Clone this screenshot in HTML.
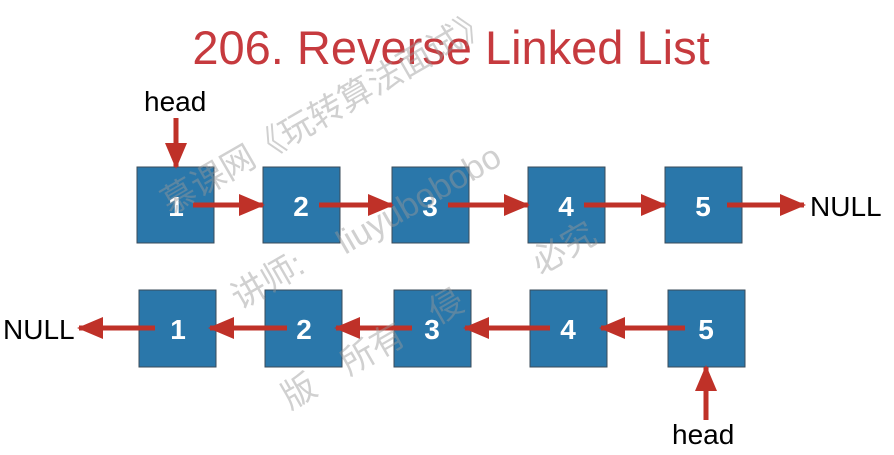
<!DOCTYPE html>
<html><head><meta charset="utf-8"><style>
html,body{margin:0;padding:0;background:#fff;width:894px;height:455px;overflow:hidden}
</style></head><body>
<svg width="894" height="455" viewBox="0 0 894 455" xmlns="http://www.w3.org/2000/svg" font-family="Liberation Sans, sans-serif">
<defs>
<marker id="a" markerWidth="26" markerHeight="22" refX="24" refY="11" orient="auto" markerUnits="userSpaceOnUse">
<path d="M0,0 L26,11 L0,22 Z" fill="#bf3128"/></marker>
</defs>
<text x="451" y="64" text-anchor="middle" font-size="47" fill="#c63a3e">206. Reverse Linked List</text>
<g fill="#2a77aa" stroke="#3a4b5a" stroke-width="1">
<rect x="137" y="167" width="77" height="76"/>
<rect x="263" y="167" width="77" height="76"/>
<rect x="392" y="167" width="77" height="76"/>
<rect x="528" y="167" width="77" height="76"/>
<rect x="665" y="167" width="77" height="76"/>
<rect x="139" y="290" width="77" height="77"/>
<rect x="265" y="290" width="77" height="77"/>
<rect x="394" y="290" width="77" height="77"/>
<rect x="530" y="290" width="77" height="77"/>
<rect x="668" y="290" width="77" height="77"/>
</g>
<g fill="#fff" font-size="28" font-weight="bold" text-anchor="middle">
<text x="176" y="216">1</text><text x="301" y="216">2</text><text x="430" y="216">3</text><text x="566" y="216">4</text><text x="703" y="216">5</text>
<text x="178" y="339">1</text><text x="304" y="339">2</text><text x="432" y="339">3</text><text x="568" y="339">4</text><text x="706" y="339">5</text>
</g>
<g stroke="#bf3128" stroke-width="5" fill="none" marker-end="url(#a)">
<line x1="176" y1="118" x2="176" y2="167"/>
<line x1="193" y1="205" x2="263" y2="205"/>
<line x1="319" y1="205" x2="392" y2="205"/>
<line x1="448" y1="205" x2="528" y2="205"/>
<line x1="584" y1="205" x2="665" y2="205"/>
<line x1="727" y1="205" x2="804" y2="205"/>
<line x1="155" y1="328" x2="79" y2="328"/>
<line x1="287" y1="328" x2="210" y2="328"/>
<line x1="412" y1="328" x2="336" y2="328"/>
<line x1="550" y1="328" x2="465" y2="328"/>
<line x1="685" y1="328" x2="601" y2="328"/>
<line x1="706" y1="420" x2="706" y2="367"/>
</g>
<g fill="#000" font-size="28">
<text x="144" y="111">head</text>
<text x="810" y="216">NULL</text>
<text x="3" y="339">NULL</text>
<text x="672" y="444">head</text>
</g>
<g fill="#999" opacity="0.45" font-size="34" font-family="Liberation Sans, Noto Sans CJK SC, sans-serif">
<text transform="translate(170,215) rotate(-30)">慕课网《玩转算法面试》</text>
<text transform="translate(345,255) rotate(-30)">liuyubobobo</text>
<text transform="translate(240,310) rotate(-30)">讲师:</text>
<text transform="translate(540,275) rotate(-30)">必究</text>
<text transform="translate(290,410) rotate(-30)">版　所有　侵</text>
</g>
</svg>
</body></html>
